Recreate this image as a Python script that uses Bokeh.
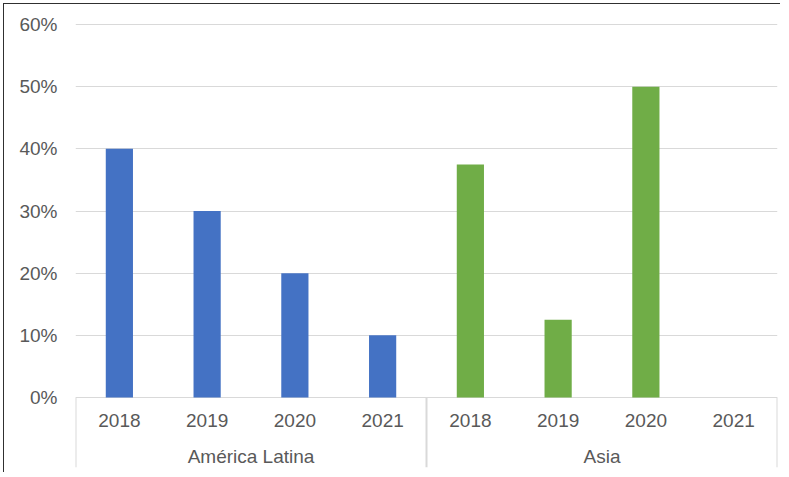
from bokeh.plotting import figure
from bokeh.models import Range1d, FixedTicker, NumeralTickFormatter, ColumnDataSource
from bokeh.core.properties import value
from bokeh.embed import file_html
from bokeh.resources import INLINE

groups = ["América Latina", "Asia"]
years = ["2018", "2019", "2020", "2021"]
latam = [0.40, 0.30, 0.20, 0.10]
asia = [0.375, 0.125, 0.50, 0.0]
colors = ["#4472C4", "#70AD47"]
y_ticks = [0.0, 0.1, 0.2, 0.3, 0.4, 0.5, 0.6]

FONT = "Liberation Sans"
TXT = "#595959"
GRID = "#D9D9D9"

n_years = len(years)
n_total = n_years * len(groups)

# frame extends below zero to hold the two-level category axis
px_per_unit = 373 / 0.6
y_bottom = -70 / px_per_unit
y_top = 0.6 + 1 / px_per_unit
p = figure(width=777, height=469, output_backend="svg", toolbar_location=None,
           x_range=Range1d(0, n_total), y_range=Range1d(y_bottom, y_top),
           min_border_left=71, min_border_right=4, min_border_top=19, min_border_bottom=6)
p.styles = {"margin-left": "3px", "margin-top": "3px",
            "border-left": "1px solid #303030", "border-top": "1px solid #303030"}
p.outline_line_color = None
p.xaxis.visible = False
p.xgrid.visible = False
p.ygrid.ticker = FixedTicker(ticks=y_ticks)
p.ygrid.grid_line_color = GRID
p.ygrid.grid_line_width = 1

ya = p.yaxis[0]
ya.ticker = FixedTicker(ticks=y_ticks)
ya.formatter = NumeralTickFormatter(format="0%")
ya.axis_line_color = None
ya.major_tick_line_color = None
ya.minor_tick_line_color = None
ya.major_tick_out = 0
ya.major_label_standoff = 18
ya.major_label_text_font = FONT
ya.major_label_text_font_size = "19px"
ya.major_label_text_color = TXT

# bars
for gi, (vals, col) in enumerate(zip([latam, asia], colors)):
    xs = [gi * n_years + i + 0.5 for i in range(n_years)]
    src = ColumnDataSource(dict(x=xs, top=vals))
    p.vbar(x="x", top="top", bottom=0, width=0.31, source=src,
           fill_color=col, line_color=None)

# category labels (years)
xs_all, yl = [], []
for gi in range(len(groups)):
    for i, y in enumerate(years):
        xs_all.append(gi * n_years + i + 0.5)
        yl.append(y)
p.text(x=xs_all, y=[-22.5 / px_per_unit] * len(xs_all), text=yl, text_font=value(FONT),
       text_font_size="19px", text_color=TXT, text_align="center", text_baseline="middle")

# group labels
gx = [gi * n_years + n_years / 2 for gi in range(len(groups))]
p.text(x=gx, y=[-59 / px_per_unit] * len(groups), text=groups, text_font=value(FONT),
       text_font_size="19px", text_color=TXT, text_align="center", text_baseline="middle")

# group separators
sx = [gi * n_years for gi in range(len(groups) + 1)]
p.segment(x0=sx, x1=sx, y0=[0] * len(sx), y1=[y_bottom] * len(sx),
          line_color=GRID, line_width=2)

open("out.html", "w").write(file_html(p, INLINE))
